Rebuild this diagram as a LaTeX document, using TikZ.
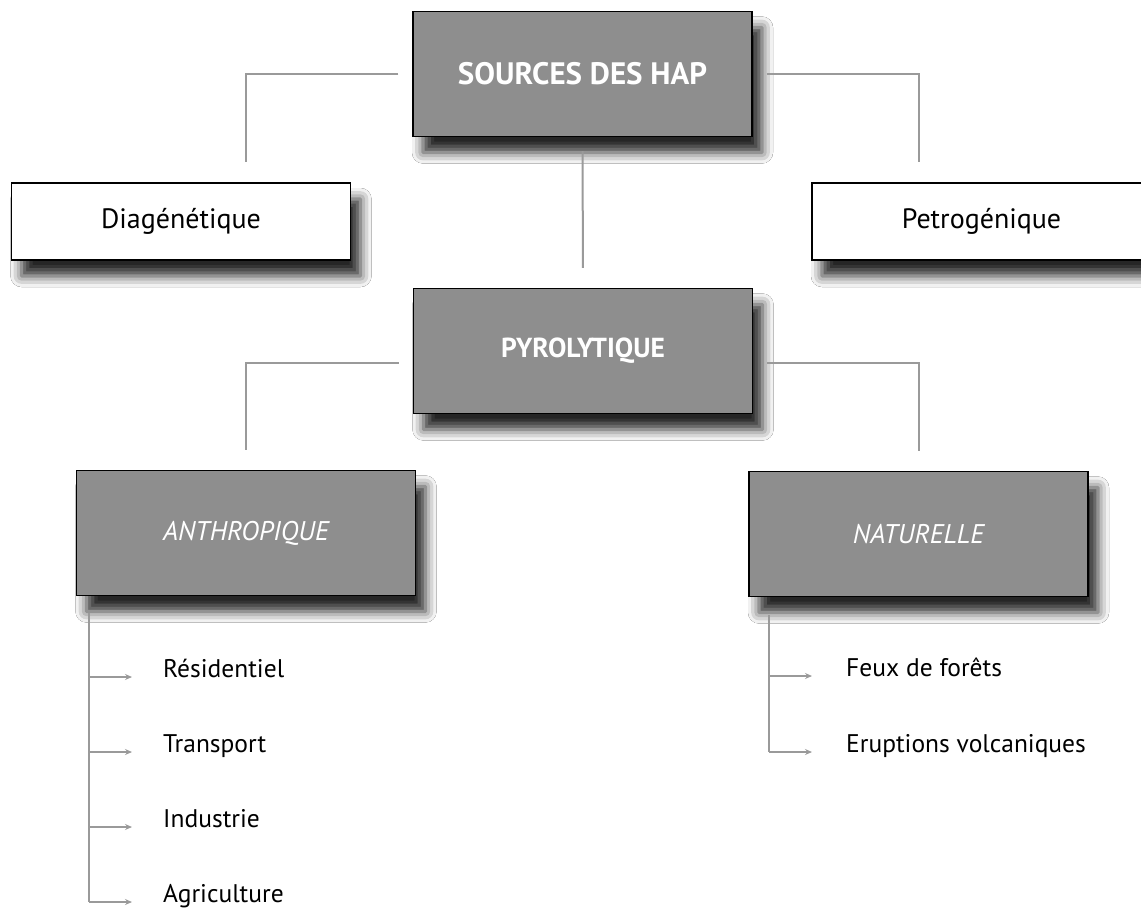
\documentclass[tikz,border=0pt]{standalone}
\usepackage{fontspec}
\setmainfont{PT Sans}
\usetikzlibrary{arrows.meta,shadows.blur}
\definecolor{boxgray}{HTML}{8E8E8E}
\definecolor{linkgray}{HTML}{9A9A9A}
\tikzset{
  hapbox/.style={draw=black, line width=1.4pt, fill=boxgray, text=white,
    minimum width=339pt, minimum height=125pt, inner sep=0pt,
    blur shadow={shadow xshift=10pt, shadow yshift=-16pt, shadow blur radius=11pt, shadow opacity=85}},
  srcbox/.style={hapbox, minimum height=77pt, fill=white, text=black, font=\fontsize{28}{32}\selectfont},
  link/.style={draw=linkgray, line width=2pt, shorten <=14pt, shorten >=20pt},
  item/.style={anchor=base west, inner sep=0pt, font=\fontsize{25.5}{30}\selectfont},
  itemline/.style={draw=linkgray, line width=1.3pt},
  itemarrow/.style={itemline, -{Stealth[length=7pt,width=6pt,inset=2.5pt]}, shorten >=31pt}
}
\begin{document}
\begin{tikzpicture}[x=1pt,y=-1pt]
	\clip (0,0) rectangle (1141,908);
	\fill[white] (0,0) rectangle (1141,908);
	\node[hapbox, font=\bfseries\fontsize{31}{35}\selectfont] (src) at (582.5,74) {SOURCES DES HAP};
	\node[srcbox] (diag) at (181,221.5) {Diagénétique};
	\node[srcbox] (petro) at (981.5,221.5) {Petrogénique};
	\node[hapbox, font=\bfseries\fontsize{27.5}{31}\selectfont] (pyro) at (583,351) {PYROLYTIQUE};
	\node[hapbox, font=\itshape\fontsize{27}{31}\selectfont] (anth) at (246,533) {ANTHROPIQUE};
	\node[hapbox, font=\itshape\fontsize{27}{31}\selectfont] (natu) at (918.5,534) {NATURELLE};

	\draw[link] (src.west) -| (anth.north |- diag.north);
	\draw[link] (src.east) -| (natu.north |- petro.north);
	\draw[link] (src.south) -- (pyro.north);
	\draw[link] ([yshift=-12pt]pyro.west) -| (anth.north);
	\draw[link] ([yshift=-12pt]pyro.east) -| (natu.north);

	\node[item] (res) at (163,677) {Résidentiel};
	\node[item] (tra) at (163,752) {Transport};
	\node[item] (ind) at (163,827) {Industrie};
	\node[item] (agr) at (163,902) {Agriculture};
	\coordinate (aTop) at (89,613);
	\draw[itemline] (aTop) -- (aTop |- agr.base);
	\foreach \n in {res,tra,ind,agr}
		\draw[itemarrow] (aTop |- \n.base) -- (\n.base west);

	\node[item] (feu) at (846,676) {Feux de forêts};
	\node[item] (eru) at (846,752) {Eruptions volcaniques};
	\coordinate (nTop) at (769,615);
	\draw[itemline] (nTop) -- (nTop |- eru.base);
	\foreach \n in {feu,eru}
		\draw[itemarrow, shorten >=34pt] (nTop |- \n.base) -- (\n.base west);
\end{tikzpicture}
\end{document}
